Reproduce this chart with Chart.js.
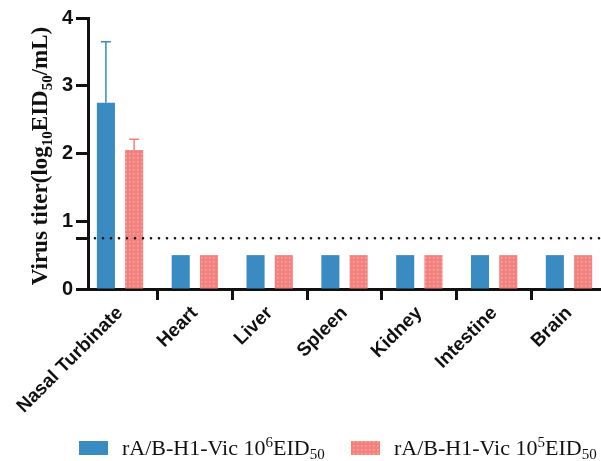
<!DOCTYPE html>
<html>
<head>
<meta charset="utf-8">
<script src="https://cdn.jsdelivr.net/npm/chart.js@4"></script>
<style>
html,body{margin:0;padding:0;background:#fff;overflow:hidden;}
#wrap{position:relative;width:601px;height:461px;}
</style>
</head>
<body>
<div id="wrap"><canvas id="c" width="601" height="461"></canvas></div>
<script>
// ---- data ----
const categories = ["Nasal Turbinate","Heart","Liver","Spleen","Kidney","Intestine","Brain"];
const series1Name = ["rA/B-H1-Vic 10", "6", "EID", "50"];   // text, superscript, text, subscript
const series2Name = ["rA/B-H1-Vic 10", "5", "EID", "50"];
const series1Values = [2.75, 0.5, 0.5, 0.5, 0.5, 0.5, 0.5];
const series1Errors = [0.90, 0, 0, 0, 0, 0, 0];
const series2Values = [2.05, 0.5, 0.5, 0.5, 0.5, 0.5, 0.5];
const series2Errors = [0.16, 0, 0, 0, 0, 0, 0];
const detectionLimit = 0.75;
const yTicks = [0, 1, 2, 3, 4];

const BLUE = '#3a8bc1';
const RED = '#f3827f';

function makePattern() {
  const p = document.createElement('canvas');
  p.width = 4; p.height = 4;
  const g = p.getContext('2d');
  g.fillStyle = RED; g.fillRect(0,0,4,4);
  g.fillStyle = '#f8aaa6'; g.fillRect(1,1,1.5,1.5);
  const ctx = document.getElementById('c').getContext('2d');
  return ctx.createPattern(p, 'repeat');
}
const redPattern = makePattern();

const d1 = categories.map((c,i)=>({x:i, y:series1Values[i]}));
const d2 = categories.map((c,i)=>({x:i, y:series2Values[i]}));

const errorPlugin = {
  id:'errs',
  afterDatasetsDraw(chart){
    const ctx = chart.ctx, y = chart.scales.y;
    [[0,series1Errors,series1Values,BLUE],[1,series2Errors,series2Values,RED]].forEach(([di,errs,vals,col])=>{
      const meta = chart.getDatasetMeta(di);
      meta.data.forEach((bar,i)=>{
        if(!errs[i]) return;
        const x = bar.x, y0 = y.getPixelForValue(vals[i]), y1 = y.getPixelForValue(vals[i]+errs[i]);
        ctx.save(); ctx.strokeStyle = col; ctx.lineWidth = 1.5;
        ctx.beginPath(); ctx.moveTo(x,y0); ctx.lineTo(x,y1);
        ctx.moveTo(x-5,y1); ctx.lineTo(x+5,y1); ctx.stroke(); ctx.restore();
      });
    });
    // detection limit dotted line
    const ca = chart.chartArea, py = y.getPixelForValue(detectionLimit);
    ctx.save(); ctx.strokeStyle='#111'; ctx.lineWidth=2.6; ctx.lineCap='round';
    ctx.setLineDash([0,8]);
    ctx.beginPath(); ctx.moveTo(ca.left+7,py); ctx.lineTo(ca.right,py); ctx.stroke(); ctx.restore();
  }
};

function drawRich(ctx, parts, x, y, size, family, weight){
  const big = `${weight} ${size}px ${family}`;
  const small = `${weight} ${Math.round(size*0.68)}px ${family}`;
  let cx = x;
  const segs = [[parts[0],big,0],[parts[1],small,-size*0.38],[parts[2],big,0],[parts[3],small,size*0.2]];
  segs.forEach(([t,f,dy])=>{ ctx.font=f; ctx.fillText(t,cx,y+dy); cx+=ctx.measureText(t).width; });
  return cx-x;
}

const textPlugin = {
  id:'texts',
  afterDraw(chart){
    const ctx = chart.ctx;
    ctx.save();
    ctx.fillStyle='#111'; ctx.textBaseline='alphabetic';
    const fam = '"Liberation Serif","Times New Roman",serif';
    const tparts = ["Virus titer(log","10","EID","50","/mL)"];
    const size = 23;
    const big = `bold ${size}px ${fam}`, small = `bold 15px ${fam}`;
    const segs = [[tparts[0],big,0],[tparts[1],small,5],[tparts[2],big,0],[tparts[3],small,5],[tparts[4],big,0]];
    let tw = 0; segs.forEach(([t,f])=>{ctx.font=f; tw+=ctx.measureText(t).width;});
    ctx.translate(47, 156);
    ctx.rotate(-Math.PI/2);
    let cx = -tw/2;
    segs.forEach(([t,f,dy])=>{ctx.font=f; ctx.fillText(t,cx,dy); cx+=ctx.measureText(t).width;});
    ctx.restore();

    // legend
    ctx.save();
    ctx.fillStyle = BLUE; ctx.fillRect(79,441,29,14);
    ctx.fillStyle = redPattern; ctx.fillRect(351,441,29,14);
    ctx.fillStyle = '#111';
    drawRich(ctx, series1Name, 122, 455, 22, fam, 'normal');
    drawRich(ctx, series2Name, 394, 455, 22, fam, 'normal');
    ctx.restore();
  }
};

new Chart(document.getElementById('c'), {
  type:'bar',
  data:{
    datasets:[
      {label:'s1', data:d1, backgroundColor:BLUE, borderWidth:0, categoryPercentage:0.755, barPercentage:0.64},
      {label:'s2', data:d2, backgroundColor:redPattern, borderWidth:0, categoryPercentage:0.755, barPercentage:0.64}
    ]
  },
  options:{
    responsive:false, animation:false,
    layout:{padding:{top:18,left:0,right:0,bottom:0}},
    plugins:{legend:{display:false}, tooltip:{enabled:false}},
    scales:{
      x:{
        type:'linear', offset:false, min:-0.428, max:6.428,
        afterFit(s){ s.height = 172; },
        grid:{drawOnChartArea:false, tickLength:11, tickWidth:3, tickColor:'#111'},
        border:{width:3,color:'#111'},
        ticks:{
          stepSize:1, includeBounds:false, autoSkip:false, maxRotation:45, minRotation:45,
          color:'#111', padding:2,
          font:{family:'"Liberation Sans",Arial,sans-serif', size:19, weight:'bold'},
          callback:(v)=> Number.isInteger(v) ? categories[v] : ''
        },
        afterBuildTicks(s){ s.ticks = categories.map((c,i)=>({value:i})); }
      },
      y:{
        min:0, max:4,
        afterFit(s){ s.width = 88; },
        afterBuildTicks(s){ s.ticks = yTicks.map(v=>({value:v})).concat([{value:detectionLimit}]).sort((a,b)=>a.value-b.value); },
        grid:{drawOnChartArea:false, tickLength:12, tickWidth:3, tickColor:'#111'},
        border:{width:3,color:'#111'},
        ticks:{
          color:'#111', padding:3,
          font:{family:'"Liberation Sans",Arial,sans-serif', size:20, weight:'bold'},
          callback:(v)=> v===detectionLimit ? '' : String(v)
        }
      }
    }
  },
  plugins:[errorPlugin, textPlugin]
});
</script>
</body>
</html>
